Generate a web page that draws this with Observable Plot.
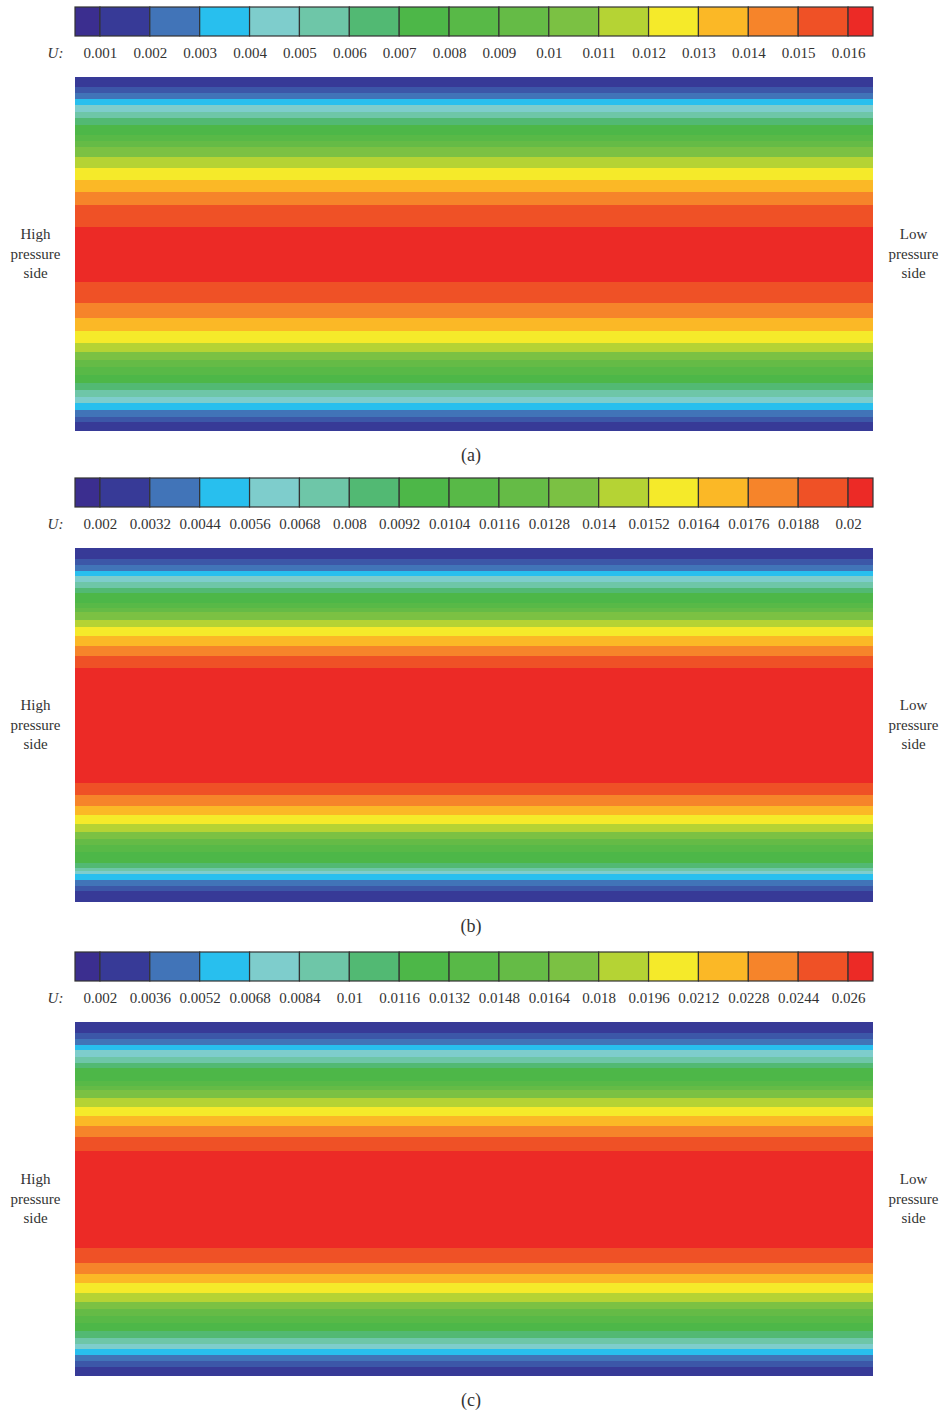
<!DOCTYPE html>
<html>
<head>
<meta charset="utf-8">
<script src="https://cdn.jsdelivr.net/npm/d3@7"></script>
<script src="https://cdn.jsdelivr.net/npm/@observablehq/plot@0.6"></script>
<style>
  html, body { margin: 0; padding: 0; background: #fff; }
  .panel { width: 942px; overflow: hidden; }
  .caption { height: 48px; line-height: 48px; text-align: center; font-family: "Liberation Serif", serif; font-size: 18px; color: #333; }
  svg { display: block; }
</style>
</head>
<body>
<div id="root"></div>
<script>
// Colour levels of the legend (17 swatches)
const swatchColors = ["#3b2e8f","#373a97","#4174b8","#28bfee","#7ecdcc","#6ec6a8","#52b973","#4db748","#58b947","#65bb46","#7bc143","#b5d334","#f5ea2a","#fbb826","#f6842a","#ef5126","#ec2a26"];

// Tick labels of each legend
const labelsA = ["0.001","0.002","0.003","0.004","0.005","0.006","0.007","0.008","0.009","0.01","0.011","0.012","0.013","0.014","0.015","0.016"];
const labelsB = ["0.002","0.0032","0.0044","0.0056","0.0068","0.008","0.0092","0.0104","0.0116","0.0128","0.014","0.0152","0.0164","0.0176","0.0188","0.02"];
const labelsC = ["0.002","0.0036","0.0052","0.0068","0.0084","0.01","0.0116","0.0132","0.0148","0.0164","0.018","0.0196","0.0212","0.0228","0.0244","0.026"];

// Colour level of each band across the channel (top wall -> bottom wall)
const bandLevels = [1,1.5,2,3,4,5,6,7,8,9,10,11,12,13,14,15,16,15,14,13,12,11,10,9,8,7,6,5,4,3,2,1.5,1];

// Band boundaries, % of channel width from the top wall
const edgesA = [0,2.8,4.5,6.2,7.9,9.9,11.6,13.6,16.4,18.1,19.8,22.6,25.7,29.1,32.5,36.2,42.4,57.9,63.8,68.1,71.8,75.1,77.7,79.9,81.9,84.2,86.4,88.4,90.4,92.1,94.1,96.0,97.5,100];
const edgesB = [0,3.1,4.8,6.5,7.9,9.6,11.3,12.7,15.5,16.9,18.1,20.3,22.3,24.9,27.7,30.5,33.9,66.4,69.8,72.9,75.4,78.0,80.2,82.2,83.9,85.9,89.0,90.4,91.2,92.1,93.8,95.5,96.9,100];
const edgesC = [0,3.1,4.8,6.5,7.9,9.9,11.6,13.0,16.7,18.1,19.2,21.5,24.0,26.6,29.4,32.5,36.4,63.8,68.1,71.2,73.7,76.6,79.1,81.1,83.1,85.0,87.3,89.3,91.0,92.4,94.1,95.8,97.5,100];

const panels = [
  {labels: labelsA, edges: edgesA, caption: "(a)", height: 471},
  {labels: labelsB, edges: edgesB, caption: "(b)", height: 474},
  {labels: labelsC, edges: edgesC, caption: "(c)", height: 471}
];

const FONT = "Liberation Serif";
const TEXT = "#333";
const colorScale = {type: "linear", domain: d3.range(swatchColors.length), range: swatchColors, interpolate: "rgb"};

const swatches = swatchColors.map((c, i) => ({
  level: i,
  x1: i === 0 ? -0.5 : i - 1,
  x2: i === swatchColors.length - 1 ? swatchColors.length - 1.5 : i
}));

const root = document.getElementById("root");

for (const p of panels) {
  const div = document.createElement("div");
  div.className = "panel";
  div.style.height = p.height + "px";

  const legend = Plot.plot({
    width: 942, height: 77,
    marginTop: 7, marginBottom: 41, marginLeft: 75, marginRight: 69,
    style: {fontFamily: FONT, fontSize: "15px", color: TEXT, background: "transparent"},
    x: {domain: [-0.5, swatchColors.length - 1.5]},
    color: colorScale,
    marks: [
      Plot.rect(swatches, {x1: "x1", x2: "x2", fill: "level", stroke: "#333", strokeWidth: 1.2}),
      Plot.axisX({ticks: d3.range(p.labels.length), tickFormat: i => p.labels[i], tickSize: 0, tickPadding: 11, fontSize: 15, label: null, fill: TEXT}),
      Plot.text(["U:"], {frameAnchor: "bottom-left", dx: -20, dy: 11, lineAnchor: "top", textAnchor: "middle", fontStyle: "italic", fontSize: 15, fill: TEXT})
    ]
  });
  div.appendChild(legend);

  const bands = bandLevels.map((lv, i) => ({level: lv, y1: p.edges[i], y2: p.edges[i + 1]}));
  const heat = Plot.plot({
    width: 942, height: 354,
    marginTop: 0, marginBottom: 0, marginLeft: 75, marginRight: 69,
    style: {fontFamily: FONT, fontSize: "15px", color: TEXT, background: "transparent"},
    y: {domain: [0, 100], reverse: true, axis: null},
    x: {axis: null},
    color: colorScale,
    marks: [
      Plot.rect(bands, {y1: "y1", y2: "y2", fill: "level", shapeRendering: "crispEdges"}),
      Plot.text(["High\npressure\nside"], {frameAnchor: "left", dx: -40, dy: -2, textAnchor: "middle", lineHeight: 1.3, fontSize: 15, fill: TEXT}),
      Plot.text(["Low\npressure\nside"], {frameAnchor: "right", dx: 40, dy: -2, textAnchor: "middle", lineHeight: 1.3, fontSize: 15, fill: TEXT})
    ]
  });
  div.appendChild(heat);

  const cap = document.createElement("div");
  cap.className = "caption";
  cap.textContent = p.caption;
  div.appendChild(cap);

  root.appendChild(div);
}
</script>
</body>
</html>
